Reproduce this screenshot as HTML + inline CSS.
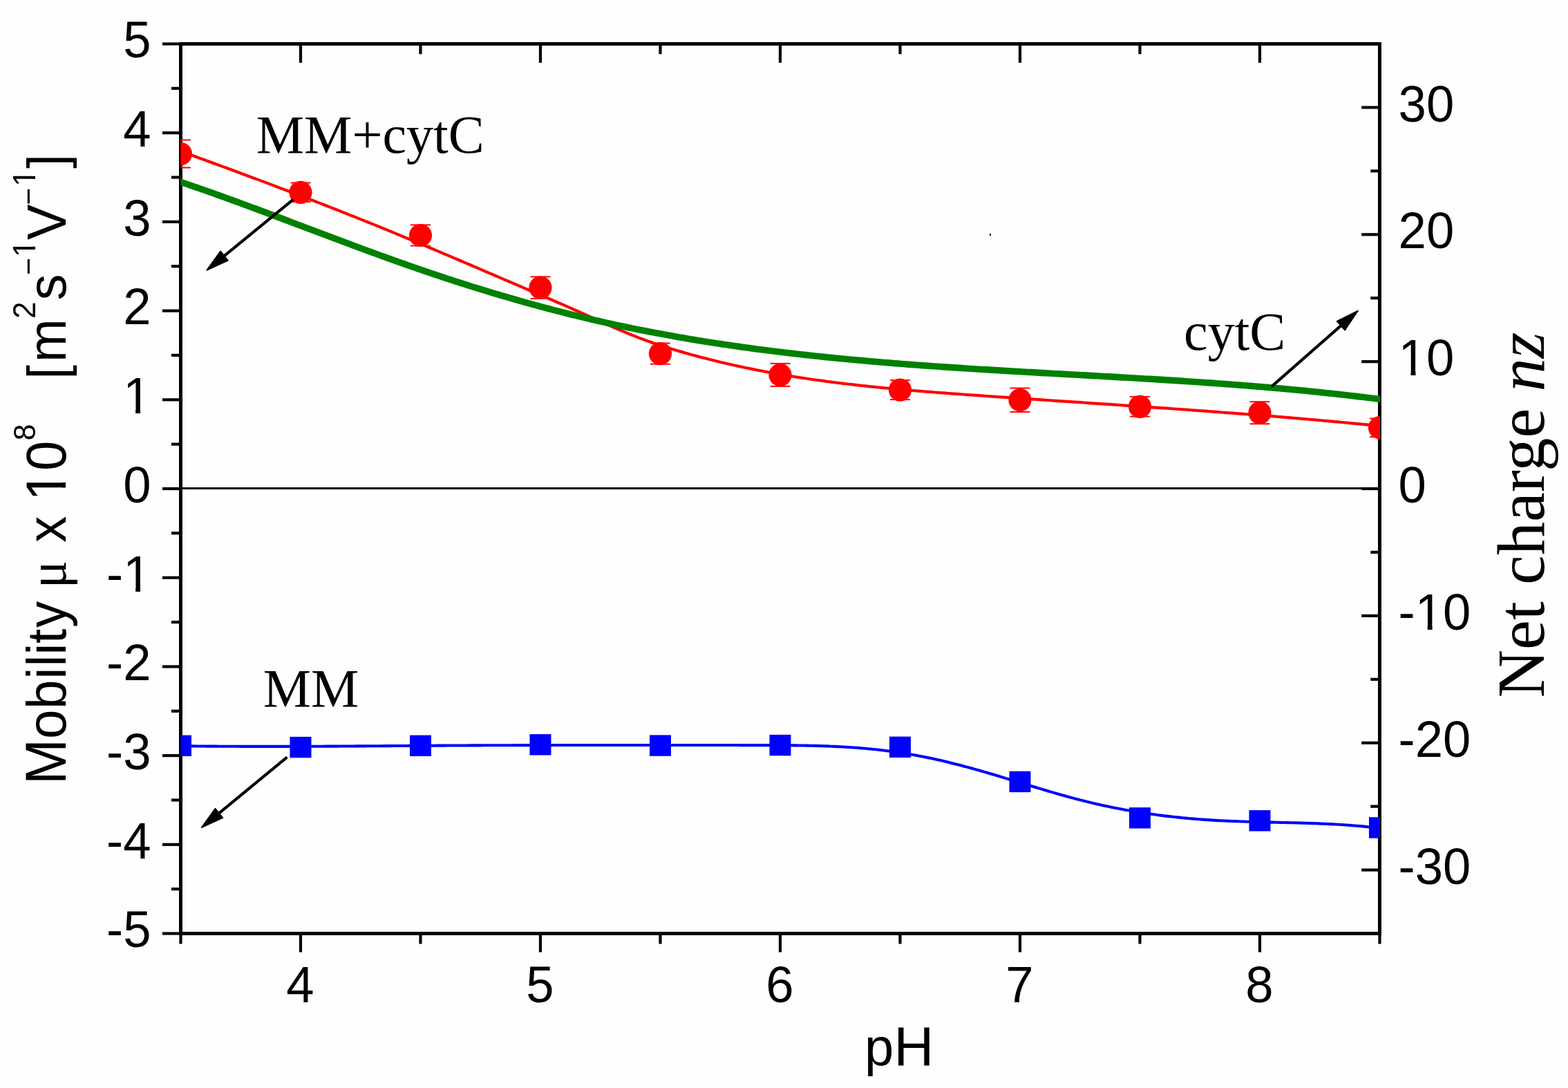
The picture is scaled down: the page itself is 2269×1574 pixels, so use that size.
<!DOCTYPE html>
<html><head><meta charset="utf-8"><title>Mobility vs pH</title>
<style>html,body{margin:0;padding:0;background:#fefefe;overflow:hidden}svg{display:block}</style>
</head><body>
<svg width="2269" height="1574" viewBox="0 0 2269 1574">
<rect width="2269" height="1574" fill="#fefefe"/>
<defs><clipPath id="pc"><rect x="261.5" y="63.5" width="1735.5" height="1287"/></clipPath></defs>
<line x1="261.5" y1="706.5" x2="1996.5" y2="706.5" stroke="#000" stroke-width="3" stroke-linecap="butt"/>
<line x1="261.5" y1="61" x2="261.5" y2="1353" stroke="#000" stroke-width="5" stroke-linecap="butt"/>
<line x1="1996.5" y1="61" x2="1996.5" y2="1353" stroke="#000" stroke-width="5" stroke-linecap="butt"/>
<line x1="259" y1="63.5" x2="1999" y2="63.5" stroke="#000" stroke-width="5" stroke-linecap="butt"/>
<line x1="259" y1="1350.5" x2="1999" y2="1350.5" stroke="#000" stroke-width="5" stroke-linecap="butt"/>
<line x1="235" y1="1350.5" x2="261.5" y2="1350.5" stroke="#000" stroke-width="4.2" stroke-linecap="butt"/>
<line x1="248" y1="1286.15" x2="261.5" y2="1286.15" stroke="#000" stroke-width="4.2" stroke-linecap="butt"/>
<line x1="235" y1="1221.8" x2="261.5" y2="1221.8" stroke="#000" stroke-width="4.2" stroke-linecap="butt"/>
<line x1="248" y1="1157.45" x2="261.5" y2="1157.45" stroke="#000" stroke-width="4.2" stroke-linecap="butt"/>
<line x1="235" y1="1093.1" x2="261.5" y2="1093.1" stroke="#000" stroke-width="4.2" stroke-linecap="butt"/>
<line x1="248" y1="1028.75" x2="261.5" y2="1028.75" stroke="#000" stroke-width="4.2" stroke-linecap="butt"/>
<line x1="235" y1="964.4" x2="261.5" y2="964.4" stroke="#000" stroke-width="4.2" stroke-linecap="butt"/>
<line x1="248" y1="900.05" x2="261.5" y2="900.05" stroke="#000" stroke-width="4.2" stroke-linecap="butt"/>
<line x1="235" y1="835.7" x2="261.5" y2="835.7" stroke="#000" stroke-width="4.2" stroke-linecap="butt"/>
<line x1="248" y1="771.35" x2="261.5" y2="771.35" stroke="#000" stroke-width="4.2" stroke-linecap="butt"/>
<line x1="235" y1="707" x2="261.5" y2="707" stroke="#000" stroke-width="4.2" stroke-linecap="butt"/>
<line x1="248" y1="642.65" x2="261.5" y2="642.65" stroke="#000" stroke-width="4.2" stroke-linecap="butt"/>
<line x1="235" y1="578.3" x2="261.5" y2="578.3" stroke="#000" stroke-width="4.2" stroke-linecap="butt"/>
<line x1="248" y1="513.95" x2="261.5" y2="513.95" stroke="#000" stroke-width="4.2" stroke-linecap="butt"/>
<line x1="235" y1="449.6" x2="261.5" y2="449.6" stroke="#000" stroke-width="4.2" stroke-linecap="butt"/>
<line x1="248" y1="385.25" x2="261.5" y2="385.25" stroke="#000" stroke-width="4.2" stroke-linecap="butt"/>
<line x1="235" y1="320.9" x2="261.5" y2="320.9" stroke="#000" stroke-width="4.2" stroke-linecap="butt"/>
<line x1="248" y1="256.55" x2="261.5" y2="256.55" stroke="#000" stroke-width="4.2" stroke-linecap="butt"/>
<line x1="235" y1="192.2" x2="261.5" y2="192.2" stroke="#000" stroke-width="4.2" stroke-linecap="butt"/>
<line x1="248" y1="127.85" x2="261.5" y2="127.85" stroke="#000" stroke-width="4.2" stroke-linecap="butt"/>
<line x1="235" y1="63.5" x2="261.5" y2="63.5" stroke="#000" stroke-width="4.2" stroke-linecap="butt"/>
<line x1="1983.3" y1="1350.5" x2="1996.5" y2="1350.5" stroke="#000" stroke-width="4.2" stroke-linecap="butt"/>
<line x1="1970.2" y1="1258.57" x2="1996.5" y2="1258.57" stroke="#000" stroke-width="4.2" stroke-linecap="butt"/>
<line x1="1983.3" y1="1166.64" x2="1996.5" y2="1166.64" stroke="#000" stroke-width="4.2" stroke-linecap="butt"/>
<line x1="1970.2" y1="1074.71" x2="1996.5" y2="1074.71" stroke="#000" stroke-width="4.2" stroke-linecap="butt"/>
<line x1="1983.3" y1="982.79" x2="1996.5" y2="982.79" stroke="#000" stroke-width="4.2" stroke-linecap="butt"/>
<line x1="1970.2" y1="890.86" x2="1996.5" y2="890.86" stroke="#000" stroke-width="4.2" stroke-linecap="butt"/>
<line x1="1983.3" y1="798.93" x2="1996.5" y2="798.93" stroke="#000" stroke-width="4.2" stroke-linecap="butt"/>
<line x1="1970.2" y1="707" x2="1996.5" y2="707" stroke="#000" stroke-width="4.2" stroke-linecap="butt"/>
<line x1="1983.3" y1="615.07" x2="1996.5" y2="615.07" stroke="#000" stroke-width="4.2" stroke-linecap="butt"/>
<line x1="1970.2" y1="523.14" x2="1996.5" y2="523.14" stroke="#000" stroke-width="4.2" stroke-linecap="butt"/>
<line x1="1983.3" y1="431.21" x2="1996.5" y2="431.21" stroke="#000" stroke-width="4.2" stroke-linecap="butt"/>
<line x1="1970.2" y1="339.29" x2="1996.5" y2="339.29" stroke="#000" stroke-width="4.2" stroke-linecap="butt"/>
<line x1="1983.3" y1="247.36" x2="1996.5" y2="247.36" stroke="#000" stroke-width="4.2" stroke-linecap="butt"/>
<line x1="1970.2" y1="155.43" x2="1996.5" y2="155.43" stroke="#000" stroke-width="4.2" stroke-linecap="butt"/>
<line x1="1983.3" y1="63.5" x2="1996.5" y2="63.5" stroke="#000" stroke-width="4.2" stroke-linecap="butt"/>
<line x1="261.5" y1="1350.5" x2="261.5" y2="1365.5" stroke="#000" stroke-width="4.2" stroke-linecap="butt"/>
<line x1="261.5" y1="63.5" x2="261.5" y2="78.3" stroke="#000" stroke-width="4.2" stroke-linecap="butt"/>
<line x1="435" y1="1350.5" x2="435" y2="1377.5" stroke="#000" stroke-width="4.2" stroke-linecap="butt"/>
<line x1="435" y1="63.5" x2="435" y2="90.8" stroke="#000" stroke-width="4.2" stroke-linecap="butt"/>
<line x1="608.5" y1="1350.5" x2="608.5" y2="1365.5" stroke="#000" stroke-width="4.2" stroke-linecap="butt"/>
<line x1="608.5" y1="63.5" x2="608.5" y2="78.3" stroke="#000" stroke-width="4.2" stroke-linecap="butt"/>
<line x1="782" y1="1350.5" x2="782" y2="1377.5" stroke="#000" stroke-width="4.2" stroke-linecap="butt"/>
<line x1="782" y1="63.5" x2="782" y2="90.8" stroke="#000" stroke-width="4.2" stroke-linecap="butt"/>
<line x1="955.5" y1="1350.5" x2="955.5" y2="1365.5" stroke="#000" stroke-width="4.2" stroke-linecap="butt"/>
<line x1="955.5" y1="63.5" x2="955.5" y2="78.3" stroke="#000" stroke-width="4.2" stroke-linecap="butt"/>
<line x1="1129" y1="1350.5" x2="1129" y2="1377.5" stroke="#000" stroke-width="4.2" stroke-linecap="butt"/>
<line x1="1129" y1="63.5" x2="1129" y2="90.8" stroke="#000" stroke-width="4.2" stroke-linecap="butt"/>
<line x1="1302.5" y1="1350.5" x2="1302.5" y2="1365.5" stroke="#000" stroke-width="4.2" stroke-linecap="butt"/>
<line x1="1302.5" y1="63.5" x2="1302.5" y2="78.3" stroke="#000" stroke-width="4.2" stroke-linecap="butt"/>
<line x1="1476" y1="1350.5" x2="1476" y2="1377.5" stroke="#000" stroke-width="4.2" stroke-linecap="butt"/>
<line x1="1476" y1="63.5" x2="1476" y2="90.8" stroke="#000" stroke-width="4.2" stroke-linecap="butt"/>
<line x1="1649.5" y1="1350.5" x2="1649.5" y2="1365.5" stroke="#000" stroke-width="4.2" stroke-linecap="butt"/>
<line x1="1649.5" y1="63.5" x2="1649.5" y2="78.3" stroke="#000" stroke-width="4.2" stroke-linecap="butt"/>
<line x1="1823" y1="1350.5" x2="1823" y2="1377.5" stroke="#000" stroke-width="4.2" stroke-linecap="butt"/>
<line x1="1823" y1="63.5" x2="1823" y2="90.8" stroke="#000" stroke-width="4.2" stroke-linecap="butt"/>
<line x1="1996.5" y1="1350.5" x2="1996.5" y2="1365.5" stroke="#000" stroke-width="4.2" stroke-linecap="butt"/>
<line x1="1996.5" y1="63.5" x2="1996.5" y2="78.3" stroke="#000" stroke-width="4.2" stroke-linecap="butt"/>
<text transform="translate(154.04,1370.3) scale(1,1.02)" font-family='"Liberation Sans", Arial, sans-serif' font-size="72.5" fill="#000">-5</text>
<text transform="translate(154.04,1241.6) scale(1,1.02)" font-family='"Liberation Sans", Arial, sans-serif' font-size="72.5" fill="#000">-4</text>
<text transform="translate(154.04,1112.9) scale(1,1.02)" font-family='"Liberation Sans", Arial, sans-serif' font-size="72.5" fill="#000">-3</text>
<text transform="translate(154.04,984.2) scale(1,1.02)" font-family='"Liberation Sans", Arial, sans-serif' font-size="72.5" fill="#000">-2</text>
<text transform="translate(154.04,855.5) scale(1,1.02)" font-family='"Liberation Sans", Arial, sans-serif' font-size="72.5" fill="#000" clip-path="url(#c1_1)">-1</text>
<text transform="translate(178.18,726.8) scale(1,1.02)" font-family='"Liberation Sans", Arial, sans-serif' font-size="72.5" fill="#000">0</text>
<text transform="translate(178.18,598.1) scale(1,1.02)" font-family='"Liberation Sans", Arial, sans-serif' font-size="72.5" fill="#000" clip-path="url(#c1_2)">1</text>
<text transform="translate(178.18,469.4) scale(1,1.02)" font-family='"Liberation Sans", Arial, sans-serif' font-size="72.5" fill="#000">2</text>
<text transform="translate(178.18,340.7) scale(1,1.02)" font-family='"Liberation Sans", Arial, sans-serif' font-size="72.5" fill="#000">3</text>
<text transform="translate(178.18,212) scale(1,1.02)" font-family='"Liberation Sans", Arial, sans-serif' font-size="72.5" fill="#000">4</text>
<text transform="translate(178.18,83.3) scale(1,1.02)" font-family='"Liberation Sans", Arial, sans-serif' font-size="72.5" fill="#000">5</text>
<text transform="translate(2023.6,1278.77) scale(1,1.02)" font-family='"Liberation Sans", Arial, sans-serif' font-size="72.5" fill="#000">-30</text>
<text transform="translate(2023.6,1094.91) scale(1,1.02)" font-family='"Liberation Sans", Arial, sans-serif' font-size="72.5" fill="#000">-20</text>
<text transform="translate(2023.6,911.06) scale(1,1.02)" font-family='"Liberation Sans", Arial, sans-serif' font-size="72.5" fill="#000" clip-path="url(#c1_3)">-10</text>
<text transform="translate(2023.6,727.2) scale(1,1.02)" font-family='"Liberation Sans", Arial, sans-serif' font-size="72.5" fill="#000">0</text>
<text transform="translate(2023.6,543.34) scale(1,1.02)" font-family='"Liberation Sans", Arial, sans-serif' font-size="72.5" fill="#000" clip-path="url(#c1_4)">10</text>
<text transform="translate(2023.6,359.49) scale(1,1.02)" font-family='"Liberation Sans", Arial, sans-serif' font-size="72.5" fill="#000">20</text>
<text transform="translate(2023.6,175.63) scale(1,1.02)" font-family='"Liberation Sans", Arial, sans-serif' font-size="72.5" fill="#000">30</text>
<text transform="translate(414.34,1450) scale(1,1.02)" font-family='"Liberation Sans", Arial, sans-serif' font-size="72.5" fill="#000">4</text>
<text transform="translate(761.34,1450) scale(1,1.02)" font-family='"Liberation Sans", Arial, sans-serif' font-size="72.5" fill="#000">5</text>
<text transform="translate(1108.34,1450) scale(1,1.02)" font-family='"Liberation Sans", Arial, sans-serif' font-size="72.5" fill="#000">6</text>
<text transform="translate(1455.34,1450) scale(1,1.02)" font-family='"Liberation Sans", Arial, sans-serif' font-size="72.5" fill="#000">7</text>
<text transform="translate(1802.34,1450) scale(1,1.02)" font-family='"Liberation Sans", Arial, sans-serif' font-size="72.5" fill="#000">8</text>
<text font-family='"Liberation Sans", Arial, sans-serif' fill="#000"><tspan font-size="76" x="1250.9" y="1541">p</tspan><tspan font-size="80" x="1293.44" y="1541">H</tspan></text>
<g clip-path="url(#pc)">
<path d="M256,216.78 C257.33,217.26 261.33,218.71 264,219.68 C266.67,220.65 269.33,221.62 272,222.59 C274.67,223.56 277.33,224.53 280,225.5 C282.67,226.47 285.33,227.45 288,228.42 C290.67,229.39 293.33,230.36 296,231.34 C298.67,232.31 301.33,233.29 304,234.27 C306.67,235.24 309.33,236.22 312,237.2 C314.67,238.18 317.33,239.16 320,240.14 C322.67,241.12 325.33,242.1 328,243.08 C330.67,244.06 333.33,245.05 336,246.03 C338.67,247.02 341.33,248 344,248.99 C346.67,249.98 349.33,250.96 352,251.95 C354.67,252.94 357.33,253.93 360,254.93 C362.67,255.92 365.33,256.91 368,257.91 C370.67,258.9 373.33,259.9 376,260.89 C378.67,261.89 381.33,262.89 384,263.89 C386.67,264.89 389.33,265.89 392,266.9 C394.67,267.9 397.33,268.91 400,269.91 C402.67,270.92 405.33,271.93 408,272.94 C410.67,273.95 413.33,274.96 416,275.97 C418.67,276.98 421.33,278 424,279.01 C426.67,280.03 429.33,281.05 432,282.07 C434.67,283.09 437.33,284.11 440,285.14 C442.67,286.16 445.33,287.18 448,288.21 C450.67,289.24 453.33,290.27 456,291.3 C458.67,292.33 461.33,293.37 464,294.4 C466.67,295.44 469.33,296.47 472,297.51 C474.67,298.55 477.33,299.59 480,300.64 C482.67,301.68 485.33,302.73 488,303.77 C490.67,304.82 493.33,305.87 496,306.93 C498.67,307.98 501.33,309.03 504,310.09 C506.67,311.15 509.33,312.21 512,313.27 C514.67,314.33 517.33,315.39 520,316.46 C522.67,317.53 525.33,318.59 528,319.67 C530.67,320.74 533.33,321.81 536,322.89 C538.67,323.96 541.33,325.04 544,326.12 C546.67,327.2 549.33,328.29 552,329.37 C554.67,330.46 557.33,331.55 560,332.64 C562.67,333.73 565.33,334.83 568,335.92 C570.67,337.02 573.33,338.12 576,339.22 C578.67,340.32 581.33,341.42 584,342.53 C586.67,343.64 589.33,344.74 592,345.85 C594.67,346.96 597.33,348.07 600,349.19 C602.67,350.3 605.33,351.42 608,352.54 C610.67,353.65 613.33,354.77 616,355.89 C618.67,357.01 621.33,358.14 624,359.26 C626.67,360.38 629.33,361.51 632,362.64 C634.67,363.76 637.33,364.89 640,366.02 C642.67,367.15 645.33,368.28 648,369.41 C650.67,370.55 653.33,371.68 656,372.81 C658.67,373.95 661.33,375.08 664,376.22 C666.67,377.35 669.33,378.49 672,379.63 C674.67,380.77 677.33,381.91 680,383.05 C682.67,384.18 685.33,385.32 688,386.47 C690.67,387.61 693.33,388.75 696,389.89 C698.67,391.03 701.33,392.17 704,393.31 C706.67,394.46 709.33,395.6 712,396.74 C714.67,397.89 717.33,399.03 720,400.17 C722.67,401.31 725.33,402.46 728,403.6 C730.67,404.74 733.33,405.89 736,407.03 C738.67,408.17 741.33,409.31 744,410.46 C746.67,411.6 749.33,412.74 752,413.88 C754.67,415.02 757.33,416.17 760,417.31 C762.67,418.45 765.33,419.59 768,420.73 C770.67,421.87 773.33,423.01 776,424.16 C778.67,425.3 781.33,426.45 784,427.59 C786.67,428.74 789.33,429.88 792,431.03 C794.67,432.18 797.33,433.33 800,434.48 C802.67,435.64 805.33,436.79 808,437.95 C810.67,439.11 813.33,440.27 816,441.43 C818.67,442.6 821.33,443.77 824,444.94 C826.67,446.11 829.33,447.28 832,448.46 C834.67,449.64 837.33,450.82 840,452.01 C842.67,453.2 845.33,454.39 848,455.59 C850.67,456.78 853.33,457.99 856,459.19 C858.67,460.39 861.33,461.6 864,462.8 C866.67,464 869.33,465.2 872,466.4 C874.67,467.6 877.33,468.79 880,469.98 C882.67,471.16 885.33,472.34 888,473.51 C890.67,474.68 893.33,475.84 896,476.99 C898.67,478.13 901.33,479.27 904,480.38 C906.67,481.5 909.33,482.61 912,483.69 C914.67,484.77 917.33,485.84 920,486.88 C922.67,487.93 925.33,488.96 928,489.96 C930.67,490.97 933.33,491.96 936,492.92 C938.67,493.89 941.33,494.83 944,495.76 C946.67,496.68 949.33,497.58 952,498.47 C954.67,499.36 957.33,500.22 960,501.08 C962.67,501.93 965.33,502.77 968,503.59 C970.67,504.42 973.33,505.23 976,506.03 C978.67,506.83 981.33,507.61 984,508.39 C986.67,509.17 989.33,509.94 992,510.7 C994.67,511.45 997.33,512.2 1000,512.94 C1002.67,513.68 1005.33,514.4 1008,515.12 C1010.67,515.84 1013.33,516.55 1016,517.24 C1018.67,517.94 1021.33,518.63 1024,519.31 C1026.67,519.99 1029.33,520.66 1032,521.32 C1034.67,521.98 1037.33,522.63 1040,523.27 C1042.67,523.91 1045.33,524.54 1048,525.16 C1050.67,525.79 1053.33,526.4 1056,527.01 C1058.67,527.61 1061.33,528.21 1064,528.8 C1066.67,529.39 1069.33,529.97 1072,530.54 C1074.67,531.11 1077.33,531.67 1080,532.23 C1082.67,532.78 1085.33,533.33 1088,533.87 C1090.67,534.41 1093.33,534.94 1096,535.46 C1098.67,535.98 1101.33,536.5 1104,537 C1106.67,537.51 1109.33,538.01 1112,538.5 C1114.67,538.99 1117.33,539.48 1120,539.95 C1122.67,540.43 1125.33,540.9 1128,541.36 C1130.67,541.83 1133.33,542.28 1136,542.73 C1138.67,543.18 1141.33,543.62 1144,544.06 C1146.67,544.49 1149.33,544.92 1152,545.34 C1154.67,545.76 1157.33,546.18 1160,546.59 C1162.67,546.99 1165.33,547.4 1168,547.79 C1170.67,548.19 1173.33,548.58 1176,548.96 C1178.67,549.35 1181.33,549.72 1184,550.1 C1186.67,550.47 1189.33,550.83 1192,551.19 C1194.67,551.56 1197.33,551.91 1200,552.26 C1202.67,552.61 1205.33,552.95 1208,553.29 C1210.67,553.63 1213.33,553.96 1216,554.29 C1218.67,554.62 1221.33,554.94 1224,555.26 C1226.67,555.58 1229.33,555.89 1232,556.2 C1234.67,556.51 1237.33,556.81 1240,557.11 C1242.67,557.41 1245.33,557.7 1248,557.99 C1250.67,558.28 1253.33,558.57 1256,558.85 C1258.67,559.13 1261.33,559.41 1264,559.68 C1266.67,559.96 1269.33,560.23 1272,560.49 C1274.67,560.76 1277.33,561.02 1280,561.28 C1282.67,561.54 1285.33,561.79 1288,562.04 C1290.67,562.29 1293.33,562.54 1296,562.78 C1298.67,563.03 1301.33,563.27 1304,563.51 C1306.67,563.74 1309.33,563.98 1312,564.21 C1314.67,564.44 1317.33,564.67 1320,564.9 C1322.67,565.12 1325.33,565.35 1328,565.57 C1330.67,565.79 1333.33,566.01 1336,566.22 C1338.67,566.44 1341.33,566.65 1344,566.86 C1346.67,567.07 1349.33,567.28 1352,567.49 C1354.67,567.7 1357.33,567.9 1360,568.11 C1362.67,568.31 1365.33,568.51 1368,568.71 C1370.67,568.91 1373.33,569.11 1376,569.3 C1378.67,569.5 1381.33,569.7 1384,569.89 C1386.67,570.08 1389.33,570.28 1392,570.47 C1394.67,570.66 1397.33,570.85 1400,571.04 C1402.67,571.23 1405.33,571.42 1408,571.61 C1410.67,571.79 1413.33,571.98 1416,572.17 C1418.67,572.35 1421.33,572.54 1424,572.73 C1426.67,572.91 1429.33,573.1 1432,573.28 C1434.67,573.47 1437.33,573.65 1440,573.84 C1442.67,574.02 1445.33,574.2 1448,574.39 C1450.67,574.57 1453.33,574.75 1456,574.94 C1458.67,575.12 1461.33,575.3 1464,575.48 C1466.67,575.66 1469.33,575.85 1472,576.03 C1474.67,576.21 1477.33,576.39 1480,576.57 C1482.67,576.75 1485.33,576.93 1488,577.11 C1490.67,577.29 1493.33,577.47 1496,577.65 C1498.67,577.83 1501.33,578.01 1504,578.19 C1506.67,578.37 1509.33,578.55 1512,578.73 C1514.67,578.91 1517.33,579.09 1520,579.27 C1522.67,579.45 1525.33,579.63 1528,579.81 C1530.67,579.98 1533.33,580.16 1536,580.34 C1538.67,580.52 1541.33,580.7 1544,580.88 C1546.67,581.06 1549.33,581.24 1552,581.42 C1554.67,581.59 1557.33,581.77 1560,581.95 C1562.67,582.13 1565.33,582.31 1568,582.49 C1570.67,582.67 1573.33,582.85 1576,583.03 C1578.67,583.2 1581.33,583.38 1584,583.56 C1586.67,583.74 1589.33,583.92 1592,584.1 C1594.67,584.28 1597.33,584.46 1600,584.64 C1602.67,584.82 1605.33,585 1608,585.18 C1610.67,585.36 1613.33,585.54 1616,585.72 C1618.67,585.9 1621.33,586.08 1624,586.27 C1626.67,586.45 1629.33,586.63 1632,586.81 C1634.67,586.99 1637.33,587.17 1640,587.36 C1642.67,587.54 1645.33,587.72 1648,587.91 C1650.67,588.09 1653.33,588.27 1656,588.46 C1658.67,588.64 1661.33,588.82 1664,589.01 C1666.67,589.19 1669.33,589.38 1672,589.56 C1674.67,589.75 1677.33,589.94 1680,590.12 C1682.67,590.31 1685.33,590.5 1688,590.68 C1690.67,590.87 1693.33,591.06 1696,591.25 C1698.67,591.44 1701.33,591.62 1704,591.81 C1706.67,592 1709.33,592.19 1712,592.38 C1714.67,592.58 1717.33,592.77 1720,592.96 C1722.67,593.15 1725.33,593.34 1728,593.54 C1730.67,593.73 1733.33,593.92 1736,594.12 C1738.67,594.31 1741.33,594.51 1744,594.7 C1746.67,594.9 1749.33,595.1 1752,595.29 C1754.67,595.49 1757.33,595.69 1760,595.89 C1762.67,596.09 1765.33,596.29 1768,596.49 C1770.67,596.69 1773.33,596.89 1776,597.09 C1778.67,597.29 1781.33,597.49 1784,597.7 C1786.67,597.9 1789.33,598.11 1792,598.31 C1794.67,598.52 1797.33,598.72 1800,598.93 C1802.67,599.14 1805.33,599.34 1808,599.55 C1810.67,599.76 1813.33,599.97 1816,600.18 C1818.67,600.39 1821.33,600.61 1824,600.82 C1826.67,601.03 1829.33,601.24 1832,601.46 C1834.67,601.67 1837.33,601.89 1840,602.11 C1842.67,602.32 1845.33,602.54 1848,602.76 C1850.67,602.98 1853.33,603.2 1856,603.42 C1858.67,603.64 1861.33,603.86 1864,604.09 C1866.67,604.31 1869.33,604.53 1872,604.76 C1874.67,604.99 1877.33,605.21 1880,605.44 C1882.67,605.67 1885.33,605.9 1888,606.13 C1890.67,606.36 1893.33,606.59 1896,606.82 C1898.67,607.05 1901.33,607.29 1904,607.52 C1906.67,607.76 1909.33,608 1912,608.23 C1914.67,608.47 1917.33,608.71 1920,608.95 C1922.67,609.19 1925.33,609.43 1928,609.68 C1930.67,609.92 1933.33,610.17 1936,610.41 C1938.67,610.66 1941.33,610.9 1944,611.15 C1946.67,611.4 1949.33,611.65 1952,611.9 C1954.67,612.16 1957.33,612.41 1960,612.66 C1962.67,612.92 1965.33,613.17 1968,613.43 C1970.67,613.69 1973.33,613.95 1976,614.21 C1978.67,614.47 1981.33,614.73 1984,614.99 C1986.67,615.26 1989.33,615.52 1992,615.79 C1994.67,616.06 1998.33,616.43 2000,616.6 C2001.67,616.76 2001.67,616.76 2002,616.8" fill="none" stroke="#f00" stroke-width="4.2" stroke-linejoin="round"/>
<line x1="247" y1="202.6" x2="276" y2="202.6" stroke="#f00" stroke-width="2" stroke-linecap="butt"/>
<line x1="247" y1="242.6" x2="276" y2="242.6" stroke="#f00" stroke-width="2" stroke-linecap="butt"/>
<line x1="261.5" y1="202.6" x2="261.5" y2="242.6" stroke="#f00" stroke-width="2" stroke-linecap="butt"/>
<circle cx="261.5" cy="222.6" r="16.6" fill="#f00"/>
<line x1="420.5" y1="264.6" x2="449.5" y2="264.6" stroke="#f00" stroke-width="2" stroke-linecap="butt"/>
<line x1="420.5" y1="292" x2="449.5" y2="292" stroke="#f00" stroke-width="2" stroke-linecap="butt"/>
<line x1="435" y1="264.6" x2="435" y2="292" stroke="#f00" stroke-width="2" stroke-linecap="butt"/>
<circle cx="435" cy="278.3" r="16.6" fill="#f00"/>
<line x1="594" y1="325.4" x2="623" y2="325.4" stroke="#f00" stroke-width="2" stroke-linecap="butt"/>
<line x1="594" y1="355.6" x2="623" y2="355.6" stroke="#f00" stroke-width="2" stroke-linecap="butt"/>
<line x1="608.5" y1="325.4" x2="608.5" y2="355.6" stroke="#f00" stroke-width="2" stroke-linecap="butt"/>
<circle cx="608.5" cy="340.5" r="16.6" fill="#f00"/>
<line x1="767.5" y1="400.4" x2="796.5" y2="400.4" stroke="#f00" stroke-width="2" stroke-linecap="butt"/>
<line x1="767.5" y1="432" x2="796.5" y2="432" stroke="#f00" stroke-width="2" stroke-linecap="butt"/>
<line x1="782" y1="400.4" x2="782" y2="432" stroke="#f00" stroke-width="2" stroke-linecap="butt"/>
<circle cx="782" cy="416.2" r="16.6" fill="#f00"/>
<line x1="941" y1="496.5" x2="970" y2="496.5" stroke="#f00" stroke-width="2" stroke-linecap="butt"/>
<line x1="941" y1="526.7" x2="970" y2="526.7" stroke="#f00" stroke-width="2" stroke-linecap="butt"/>
<line x1="955.5" y1="496.5" x2="955.5" y2="526.7" stroke="#f00" stroke-width="2" stroke-linecap="butt"/>
<circle cx="955.5" cy="511.6" r="16.6" fill="#f00"/>
<line x1="1114.5" y1="525.9" x2="1143.5" y2="525.9" stroke="#f00" stroke-width="2" stroke-linecap="butt"/>
<line x1="1114.5" y1="558.9" x2="1143.5" y2="558.9" stroke="#f00" stroke-width="2" stroke-linecap="butt"/>
<line x1="1129" y1="525.9" x2="1129" y2="558.9" stroke="#f00" stroke-width="2" stroke-linecap="butt"/>
<circle cx="1129" cy="542.4" r="16.6" fill="#f00"/>
<line x1="1288" y1="550.1" x2="1317" y2="550.1" stroke="#f00" stroke-width="2" stroke-linecap="butt"/>
<line x1="1288" y1="578.1" x2="1317" y2="578.1" stroke="#f00" stroke-width="2" stroke-linecap="butt"/>
<line x1="1302.5" y1="550.1" x2="1302.5" y2="578.1" stroke="#f00" stroke-width="2" stroke-linecap="butt"/>
<circle cx="1302.5" cy="564.1" r="16.6" fill="#f00"/>
<line x1="1461.5" y1="561.5" x2="1490.5" y2="561.5" stroke="#f00" stroke-width="2" stroke-linecap="butt"/>
<line x1="1461.5" y1="595.9" x2="1490.5" y2="595.9" stroke="#f00" stroke-width="2" stroke-linecap="butt"/>
<line x1="1476" y1="561.5" x2="1476" y2="595.9" stroke="#f00" stroke-width="2" stroke-linecap="butt"/>
<circle cx="1476" cy="578.7" r="16.6" fill="#f00"/>
<line x1="1635" y1="574" x2="1664" y2="574" stroke="#f00" stroke-width="2" stroke-linecap="butt"/>
<line x1="1635" y1="602.6" x2="1664" y2="602.6" stroke="#f00" stroke-width="2" stroke-linecap="butt"/>
<line x1="1649.5" y1="574" x2="1649.5" y2="602.6" stroke="#f00" stroke-width="2" stroke-linecap="butt"/>
<circle cx="1649.5" cy="588.3" r="16.6" fill="#f00"/>
<line x1="1808.5" y1="581.2" x2="1837.5" y2="581.2" stroke="#f00" stroke-width="2" stroke-linecap="butt"/>
<line x1="1808.5" y1="613.2" x2="1837.5" y2="613.2" stroke="#f00" stroke-width="2" stroke-linecap="butt"/>
<line x1="1823" y1="581.2" x2="1823" y2="613.2" stroke="#f00" stroke-width="2" stroke-linecap="butt"/>
<circle cx="1823" cy="597.2" r="16.6" fill="#f00"/>
<line x1="1982" y1="605.4" x2="2011" y2="605.4" stroke="#f00" stroke-width="2" stroke-linecap="butt"/>
<line x1="1982" y1="632" x2="2011" y2="632" stroke="#f00" stroke-width="2" stroke-linecap="butt"/>
<line x1="1996.5" y1="605.4" x2="1996.5" y2="632" stroke="#f00" stroke-width="2" stroke-linecap="butt"/>
<circle cx="1996.5" cy="618.7" r="16.6" fill="#f00"/>
<path d="M256,261.43 C257.33,261.88 261.33,263.22 264,264.12 C266.67,265.03 269.33,265.93 272,266.85 C274.67,267.76 277.33,268.68 280,269.6 C282.67,270.52 285.33,271.45 288,272.38 C290.67,273.31 293.33,274.24 296,275.18 C298.67,276.12 301.33,277.06 304,278 C306.67,278.95 309.33,279.9 312,280.85 C314.67,281.8 317.33,282.76 320,283.72 C322.67,284.68 325.33,285.64 328,286.6 C330.67,287.57 333.33,288.54 336,289.51 C338.67,290.48 341.33,291.45 344,292.43 C346.67,293.41 349.33,294.39 352,295.37 C354.67,296.35 357.33,297.33 360,298.32 C362.67,299.31 365.33,300.29 368,301.28 C370.67,302.27 373.33,303.27 376,304.26 C378.67,305.25 381.33,306.25 384,307.25 C386.67,308.24 389.33,309.24 392,310.24 C394.67,311.24 397.33,312.24 400,313.25 C402.67,314.25 405.33,315.25 408,316.26 C410.67,317.26 413.33,318.26 416,319.27 C418.67,320.28 421.33,321.28 424,322.29 C426.67,323.3 429.33,324.3 432,325.31 C434.67,326.32 437.33,327.33 440,328.33 C442.67,329.34 445.33,330.35 448,331.36 C450.67,332.37 453.33,333.37 456,334.38 C458.67,335.39 461.33,336.39 464,337.4 C466.67,338.41 469.33,339.41 472,340.42 C474.67,341.42 477.33,342.42 480,343.43 C482.67,344.43 485.33,345.43 488,346.43 C490.67,347.43 493.33,348.43 496,349.43 C498.67,350.43 501.33,351.42 504,352.42 C506.67,353.41 509.33,354.4 512,355.39 C514.67,356.38 517.33,357.37 520,358.36 C522.67,359.35 525.33,360.33 528,361.31 C530.67,362.3 533.33,363.28 536,364.25 C538.67,365.23 541.33,366.21 544,367.18 C546.67,368.15 549.33,369.12 552,370.09 C554.67,371.05 557.33,372.02 560,372.98 C562.67,373.94 565.33,374.9 568,375.85 C570.67,376.8 573.33,377.75 576,378.7 C578.67,379.65 581.33,380.59 584,381.54 C586.67,382.48 589.33,383.41 592,384.35 C594.67,385.28 597.33,386.21 600,387.14 C602.67,388.06 605.33,388.98 608,389.9 C610.67,390.82 613.33,391.73 616,392.64 C618.67,393.55 621.33,394.46 624,395.36 C626.67,396.26 629.33,397.16 632,398.05 C634.67,398.94 637.33,399.83 640,400.71 C642.67,401.6 645.33,402.48 648,403.35 C650.67,404.22 653.33,405.1 656,405.96 C658.67,406.83 661.33,407.69 664,408.55 C666.67,409.4 669.33,410.26 672,411.1 C674.67,411.95 677.33,412.8 680,413.63 C682.67,414.47 685.33,415.31 688,416.14 C690.67,416.97 693.33,417.79 696,418.61 C698.67,419.43 701.33,420.25 704,421.06 C706.67,421.87 709.33,422.68 712,423.48 C714.67,424.28 717.33,425.08 720,425.87 C722.67,426.67 725.33,427.46 728,428.24 C730.67,429.02 733.33,429.8 736,430.57 C738.67,431.35 741.33,432.12 744,432.88 C746.67,433.64 749.33,434.4 752,435.16 C754.67,435.91 757.33,436.66 760,437.41 C762.67,438.15 765.33,438.89 768,439.63 C770.67,440.36 773.33,441.09 776,441.82 C778.67,442.54 781.33,443.26 784,443.98 C786.67,444.69 789.33,445.4 792,446.11 C794.67,446.81 797.33,447.51 800,448.21 C802.67,448.9 805.33,449.59 808,450.28 C810.67,450.96 813.33,451.64 816,452.32 C818.67,452.99 821.33,453.66 824,454.33 C826.67,454.99 829.33,455.65 832,456.31 C834.67,456.96 837.33,457.61 840,458.25 C842.67,458.9 845.33,459.54 848,460.17 C850.67,460.8 853.33,461.43 856,462.05 C858.67,462.68 861.33,463.3 864,463.91 C866.67,464.52 869.33,465.13 872,465.73 C874.67,466.33 877.33,466.93 880,467.52 C882.67,468.11 885.33,468.69 888,469.28 C890.67,469.86 893.33,470.43 896,471 C898.67,471.57 901.33,472.14 904,472.7 C906.67,473.26 909.33,473.81 912,474.36 C914.67,474.91 917.33,475.45 920,475.99 C922.67,476.53 925.33,477.07 928,477.6 C930.67,478.13 933.33,478.65 936,479.17 C938.67,479.69 941.33,480.21 944,480.72 C946.67,481.23 949.33,481.74 952,482.24 C954.67,482.74 957.33,483.23 960,483.73 C962.67,484.22 965.33,484.7 968,485.19 C970.67,485.67 973.33,486.15 976,486.62 C978.67,487.09 981.33,487.56 984,488.03 C986.67,488.49 989.33,488.95 992,489.41 C994.67,489.86 997.33,490.31 1000,490.76 C1002.67,491.2 1005.33,491.65 1008,492.08 C1010.67,492.52 1013.33,492.96 1016,493.39 C1018.67,493.82 1021.33,494.24 1024,494.66 C1026.67,495.08 1029.33,495.5 1032,495.91 C1034.67,496.33 1037.33,496.73 1040,497.14 C1042.67,497.54 1045.33,497.94 1048,498.34 C1050.67,498.74 1053.33,499.13 1056,499.52 C1058.67,499.91 1061.33,500.29 1064,500.67 C1066.67,501.06 1069.33,501.43 1072,501.81 C1074.67,502.18 1077.33,502.55 1080,502.92 C1082.67,503.28 1085.33,503.64 1088,504 C1090.67,504.36 1093.33,504.72 1096,505.07 C1098.67,505.42 1101.33,505.77 1104,506.11 C1106.67,506.46 1109.33,506.8 1112,507.13 C1114.67,507.47 1117.33,507.81 1120,508.14 C1122.67,508.47 1125.33,508.79 1128,509.12 C1130.67,509.44 1133.33,509.76 1136,510.08 C1138.67,510.4 1141.33,510.71 1144,511.02 C1146.67,511.33 1149.33,511.64 1152,511.94 C1154.67,512.25 1157.33,512.55 1160,512.85 C1162.67,513.14 1165.33,513.44 1168,513.73 C1170.67,514.02 1173.33,514.31 1176,514.6 C1178.67,514.89 1181.33,515.17 1184,515.45 C1186.67,515.73 1189.33,516.01 1192,516.28 C1194.67,516.56 1197.33,516.83 1200,517.1 C1202.67,517.36 1205.33,517.63 1208,517.89 C1210.67,518.16 1213.33,518.42 1216,518.68 C1218.67,518.93 1221.33,519.19 1224,519.44 C1226.67,519.7 1229.33,519.95 1232,520.19 C1234.67,520.44 1237.33,520.69 1240,520.93 C1242.67,521.17 1245.33,521.41 1248,521.65 C1250.67,521.89 1253.33,522.12 1256,522.36 C1258.67,522.59 1261.33,522.82 1264,523.05 C1266.67,523.28 1269.33,523.51 1272,523.73 C1274.67,523.96 1277.33,524.18 1280,524.4 C1282.67,524.62 1285.33,524.83 1288,525.05 C1290.67,525.27 1293.33,525.48 1296,525.69 C1298.67,525.9 1301.33,526.11 1304,526.32 C1306.67,526.53 1309.33,526.73 1312,526.94 C1314.67,527.14 1317.33,527.34 1320,527.54 C1322.67,527.74 1325.33,527.94 1328,528.14 C1330.67,528.34 1333.33,528.53 1336,528.72 C1338.67,528.92 1341.33,529.11 1344,529.3 C1346.67,529.49 1349.33,529.68 1352,529.86 C1354.67,530.05 1357.33,530.23 1360,530.42 C1362.67,530.6 1365.33,530.78 1368,530.96 C1370.67,531.15 1373.33,531.32 1376,531.5 C1378.67,531.68 1381.33,531.86 1384,532.03 C1386.67,532.21 1389.33,532.38 1392,532.55 C1394.67,532.73 1397.33,532.9 1400,533.07 C1402.67,533.24 1405.33,533.41 1408,533.57 C1410.67,533.74 1413.33,533.91 1416,534.07 C1418.67,534.24 1421.33,534.41 1424,534.57 C1426.67,534.73 1429.33,534.9 1432,535.06 C1434.67,535.22 1437.33,535.38 1440,535.54 C1442.67,535.7 1445.33,535.86 1448,536.02 C1450.67,536.17 1453.33,536.33 1456,536.49 C1458.67,536.65 1461.33,536.8 1464,536.96 C1466.67,537.11 1469.33,537.27 1472,537.42 C1474.67,537.57 1477.33,537.73 1480,537.88 C1482.67,538.03 1485.33,538.18 1488,538.34 C1490.67,538.49 1493.33,538.64 1496,538.79 C1498.67,538.94 1501.33,539.09 1504,539.24 C1506.67,539.39 1509.33,539.54 1512,539.69 C1514.67,539.84 1517.33,539.99 1520,540.14 C1522.67,540.29 1525.33,540.43 1528,540.58 C1530.67,540.73 1533.33,540.88 1536,541.03 C1538.67,541.18 1541.33,541.32 1544,541.47 C1546.67,541.62 1549.33,541.77 1552,541.92 C1554.67,542.06 1557.33,542.21 1560,542.36 C1562.67,542.51 1565.33,542.66 1568,542.8 C1570.67,542.95 1573.33,543.1 1576,543.25 C1578.67,543.4 1581.33,543.55 1584,543.69 C1586.67,543.84 1589.33,543.99 1592,544.14 C1594.67,544.29 1597.33,544.44 1600,544.59 C1602.67,544.74 1605.33,544.89 1608,545.04 C1610.67,545.2 1613.33,545.35 1616,545.5 C1618.67,545.65 1621.33,545.8 1624,545.96 C1626.67,546.11 1629.33,546.26 1632,546.42 C1634.67,546.57 1637.33,546.73 1640,546.88 C1642.67,547.04 1645.33,547.2 1648,547.35 C1650.67,547.51 1653.33,547.67 1656,547.83 C1658.67,547.99 1661.33,548.15 1664,548.31 C1666.67,548.47 1669.33,548.63 1672,548.79 C1674.67,548.95 1677.33,549.12 1680,549.28 C1682.67,549.45 1685.33,549.61 1688,549.78 C1690.67,549.95 1693.33,550.11 1696,550.28 C1698.67,550.45 1701.33,550.62 1704,550.79 C1706.67,550.96 1709.33,551.14 1712,551.31 C1714.67,551.48 1717.33,551.66 1720,551.83 C1722.67,552.01 1725.33,552.19 1728,552.37 C1730.67,552.55 1733.33,552.73 1736,552.91 C1738.67,553.09 1741.33,553.27 1744,553.46 C1746.67,553.64 1749.33,553.83 1752,554.02 C1754.67,554.21 1757.33,554.4 1760,554.59 C1762.67,554.78 1765.33,554.97 1768,555.17 C1770.67,555.36 1773.33,555.56 1776,555.75 C1778.67,555.95 1781.33,556.15 1784,556.35 C1786.67,556.56 1789.33,556.76 1792,556.97 C1794.67,557.17 1797.33,557.38 1800,557.59 C1802.67,557.8 1805.33,558.01 1808,558.22 C1810.67,558.44 1813.33,558.65 1816,558.87 C1818.67,559.09 1821.33,559.31 1824,559.53 C1826.67,559.75 1829.33,559.97 1832,560.2 C1834.67,560.42 1837.33,560.65 1840,560.88 C1842.67,561.11 1845.33,561.35 1848,561.58 C1850.67,561.82 1853.33,562.06 1856,562.3 C1858.67,562.54 1861.33,562.78 1864,563.02 C1866.67,563.27 1869.33,563.52 1872,563.77 C1874.67,564.02 1877.33,564.27 1880,564.52 C1882.67,564.78 1885.33,565.04 1888,565.3 C1890.67,565.56 1893.33,565.82 1896,566.09 C1898.67,566.35 1901.33,566.62 1904,566.89 C1906.67,567.16 1909.33,567.44 1912,567.71 C1914.67,567.99 1917.33,568.27 1920,568.55 C1922.67,568.84 1925.33,569.12 1928,569.41 C1930.67,569.7 1933.33,569.99 1936,570.28 C1938.67,570.58 1941.33,570.88 1944,571.18 C1946.67,571.48 1949.33,571.78 1952,572.09 C1954.67,572.4 1957.33,572.71 1960,573.02 C1962.67,573.33 1965.33,573.65 1968,573.97 C1970.67,574.29 1973.33,574.61 1976,574.94 C1978.67,575.27 1981.33,575.6 1984,575.93 C1986.67,576.26 1989.33,576.6 1992,576.94 C1994.67,577.28 1998.33,577.76 2000,577.97 C2001.67,578.19 2001.67,578.19 2002,578.23" fill="none" stroke="#008000" stroke-width="9.4" stroke-linejoin="round"/>
<path d="M256,1079.13 C257.33,1079.14 261.33,1079.2 264,1079.23 C266.67,1079.26 269.33,1079.29 272,1079.32 C274.67,1079.35 277.33,1079.37 280,1079.4 C282.67,1079.43 285.33,1079.45 288,1079.48 C290.67,1079.5 293.33,1079.52 296,1079.55 C298.67,1079.57 301.33,1079.59 304,1079.61 C306.67,1079.63 309.33,1079.65 312,1079.66 C314.67,1079.68 317.33,1079.7 320,1079.71 C322.67,1079.73 325.33,1079.74 328,1079.75 C330.67,1079.77 333.33,1079.78 336,1079.79 C338.67,1079.8 341.33,1079.81 344,1079.82 C346.67,1079.83 349.33,1079.84 352,1079.84 C354.67,1079.85 357.33,1079.86 360,1079.86 C362.67,1079.87 365.33,1079.87 368,1079.88 C370.67,1079.88 373.33,1079.88 376,1079.88 C378.67,1079.89 381.33,1079.89 384,1079.89 C386.67,1079.89 389.33,1079.89 392,1079.89 C394.67,1079.89 397.33,1079.88 400,1079.88 C402.67,1079.88 405.33,1079.87 408,1079.87 C410.67,1079.87 413.33,1079.86 416,1079.86 C418.67,1079.85 421.33,1079.84 424,1079.84 C426.67,1079.83 429.33,1079.82 432,1079.82 C434.67,1079.81 437.33,1079.8 440,1079.79 C442.67,1079.78 445.33,1079.77 448,1079.76 C450.67,1079.75 453.33,1079.74 456,1079.73 C458.67,1079.72 461.33,1079.71 464,1079.7 C466.67,1079.68 469.33,1079.67 472,1079.66 C474.67,1079.64 477.33,1079.63 480,1079.62 C482.67,1079.6 485.33,1079.59 488,1079.58 C490.67,1079.56 493.33,1079.55 496,1079.53 C498.67,1079.52 501.33,1079.5 504,1079.49 C506.67,1079.47 509.33,1079.45 512,1079.44 C514.67,1079.42 517.33,1079.41 520,1079.39 C522.67,1079.37 525.33,1079.35 528,1079.34 C530.67,1079.32 533.33,1079.3 536,1079.29 C538.67,1079.27 541.33,1079.25 544,1079.23 C546.67,1079.22 549.33,1079.2 552,1079.18 C554.67,1079.16 557.33,1079.15 560,1079.13 C562.67,1079.11 565.33,1079.09 568,1079.07 C570.67,1079.06 573.33,1079.04 576,1079.02 C578.67,1079 581.33,1078.98 584,1078.97 C586.67,1078.95 589.33,1078.93 592,1078.91 C594.67,1078.9 597.33,1078.88 600,1078.86 C602.67,1078.84 605.33,1078.83 608,1078.81 C610.67,1078.79 613.33,1078.78 616,1078.76 C618.67,1078.74 621.33,1078.73 624,1078.71 C626.67,1078.69 629.33,1078.68 632,1078.66 C634.67,1078.65 637.33,1078.63 640,1078.62 C642.67,1078.6 645.33,1078.59 648,1078.57 C650.67,1078.56 653.33,1078.54 656,1078.53 C658.67,1078.51 661.33,1078.5 664,1078.49 C666.67,1078.47 669.33,1078.46 672,1078.45 C674.67,1078.43 677.33,1078.42 680,1078.41 C682.67,1078.4 685.33,1078.39 688,1078.37 C690.67,1078.36 693.33,1078.35 696,1078.34 C698.67,1078.33 701.33,1078.32 704,1078.31 C706.67,1078.3 709.33,1078.29 712,1078.28 C714.67,1078.27 717.33,1078.26 720,1078.25 C722.67,1078.24 725.33,1078.23 728,1078.22 C730.67,1078.21 733.33,1078.2 736,1078.19 C738.67,1078.18 741.33,1078.17 744,1078.17 C746.67,1078.16 749.33,1078.15 752,1078.14 C754.67,1078.13 757.33,1078.13 760,1078.12 C762.67,1078.11 765.33,1078.11 768,1078.1 C770.67,1078.09 773.33,1078.09 776,1078.08 C778.67,1078.07 781.33,1078.07 784,1078.06 C786.67,1078.06 789.33,1078.05 792,1078.05 C794.67,1078.04 797.33,1078.04 800,1078.03 C802.67,1078.03 805.33,1078.02 808,1078.02 C810.67,1078.01 813.33,1078.01 816,1078 C818.67,1078 821.33,1078 824,1077.99 C826.67,1077.99 829.33,1077.98 832,1077.98 C834.67,1077.98 837.33,1077.97 840,1077.97 C842.67,1077.97 845.33,1077.97 848,1077.96 C850.67,1077.96 853.33,1077.96 856,1077.96 C858.67,1077.95 861.33,1077.95 864,1077.95 C866.67,1077.95 869.33,1077.95 872,1077.95 C874.67,1077.94 877.33,1077.94 880,1077.94 C882.67,1077.94 885.33,1077.94 888,1077.94 C890.67,1077.94 893.33,1077.94 896,1077.94 C898.67,1077.94 901.33,1077.94 904,1077.94 C906.67,1077.94 909.33,1077.93 912,1077.94 C914.67,1077.94 917.33,1077.94 920,1077.94 C922.67,1077.94 925.33,1077.94 928,1077.94 C930.67,1077.94 933.33,1077.94 936,1077.94 C938.67,1077.94 941.33,1077.94 944,1077.94 C946.67,1077.94 949.33,1077.95 952,1077.95 C954.67,1077.95 957.33,1077.95 960,1077.95 C962.67,1077.95 965.33,1077.95 968,1077.96 C970.67,1077.96 973.33,1077.96 976,1077.96 C978.67,1077.96 981.33,1077.97 984,1077.97 C986.67,1077.97 989.33,1077.97 992,1077.98 C994.67,1077.98 997.33,1077.98 1000,1077.98 C1002.67,1077.99 1005.33,1077.99 1008,1077.99 C1010.67,1078 1013.33,1078 1016,1078 C1018.67,1078.01 1021.33,1078.01 1024,1078.01 C1026.67,1078.02 1029.33,1078.02 1032,1078.02 C1034.67,1078.03 1037.33,1078.03 1040,1078.03 C1042.67,1078.04 1045.33,1078.04 1048,1078.04 C1050.67,1078.05 1053.33,1078.05 1056,1078.05 C1058.67,1078.06 1061.33,1078.06 1064,1078.07 C1066.67,1078.07 1069.33,1078.07 1072,1078.08 C1074.67,1078.08 1077.33,1078.09 1080,1078.09 C1082.67,1078.1 1085.33,1078.1 1088,1078.1 C1090.67,1078.11 1093.33,1078.11 1096,1078.12 C1098.67,1078.12 1101.33,1078.13 1104,1078.13 C1106.67,1078.14 1109.33,1078.14 1112,1078.15 C1114.67,1078.15 1117.33,1078.16 1120,1078.17 C1122.67,1078.18 1125.33,1078.19 1128,1078.2 C1130.67,1078.21 1133.33,1078.23 1136,1078.24 C1138.67,1078.26 1141.33,1078.28 1144,1078.31 C1146.67,1078.33 1149.33,1078.36 1152,1078.39 C1154.67,1078.42 1157.33,1078.46 1160,1078.5 C1162.67,1078.54 1165.33,1078.59 1168,1078.64 C1170.67,1078.69 1173.33,1078.74 1176,1078.81 C1178.67,1078.87 1181.33,1078.94 1184,1079.02 C1186.67,1079.09 1189.33,1079.17 1192,1079.26 C1194.67,1079.35 1197.33,1079.45 1200,1079.56 C1202.67,1079.66 1205.33,1079.77 1208,1079.9 C1210.67,1080.02 1213.33,1080.15 1216,1080.29 C1218.67,1080.43 1221.33,1080.58 1224,1080.74 C1226.67,1080.9 1229.33,1081.07 1232,1081.25 C1234.67,1081.43 1237.33,1081.62 1240,1081.82 C1242.67,1082.02 1245.33,1082.23 1248,1082.46 C1250.67,1082.68 1253.33,1082.92 1256,1083.17 C1258.67,1083.42 1261.33,1083.68 1264,1083.95 C1266.67,1084.23 1269.33,1084.51 1272,1084.82 C1274.67,1085.12 1277.33,1085.43 1280,1085.76 C1282.67,1086.09 1285.33,1086.44 1288,1086.8 C1290.67,1087.15 1293.33,1087.53 1296,1087.91 C1298.67,1088.3 1301.33,1088.7 1304,1089.12 C1306.67,1089.53 1309.33,1089.96 1312,1090.41 C1314.67,1090.85 1317.33,1091.31 1320,1091.78 C1322.67,1092.25 1325.33,1092.73 1328,1093.23 C1330.67,1093.73 1333.33,1094.24 1336,1094.77 C1338.67,1095.29 1341.33,1095.83 1344,1096.38 C1346.67,1096.94 1349.33,1097.5 1352,1098.08 C1354.67,1098.66 1357.33,1099.25 1360,1099.86 C1362.67,1100.46 1365.33,1101.08 1368,1101.72 C1370.67,1102.35 1373.33,1102.99 1376,1103.65 C1378.67,1104.31 1381.33,1104.98 1384,1105.66 C1386.67,1106.34 1389.33,1107.03 1392,1107.74 C1394.67,1108.44 1397.33,1109.16 1400,1109.88 C1402.67,1110.6 1405.33,1111.34 1408,1112.08 C1410.67,1112.82 1413.33,1113.57 1416,1114.33 C1418.67,1115.08 1421.33,1115.85 1424,1116.62 C1426.67,1117.39 1429.33,1118.17 1432,1118.95 C1434.67,1119.73 1437.33,1120.52 1440,1121.32 C1442.67,1122.11 1445.33,1122.91 1448,1123.71 C1450.67,1124.51 1453.33,1125.31 1456,1126.12 C1458.67,1126.92 1461.33,1127.73 1464,1128.54 C1466.67,1129.35 1469.33,1130.16 1472,1130.97 C1474.67,1131.79 1477.33,1132.6 1480,1133.41 C1482.67,1134.22 1485.33,1135.03 1488,1135.84 C1490.67,1136.65 1493.33,1137.46 1496,1138.26 C1498.67,1139.06 1501.33,1139.87 1504,1140.66 C1506.67,1141.46 1509.33,1142.25 1512,1143.04 C1514.67,1143.83 1517.33,1144.62 1520,1145.4 C1522.67,1146.17 1525.33,1146.95 1528,1147.71 C1530.67,1148.48 1533.33,1149.24 1536,1149.99 C1538.67,1150.74 1541.33,1151.48 1544,1152.22 C1546.67,1152.95 1549.33,1153.68 1552,1154.39 C1554.67,1155.11 1557.33,1155.82 1560,1156.51 C1562.67,1157.21 1565.33,1157.89 1568,1158.56 C1570.67,1159.23 1573.33,1159.9 1576,1160.54 C1578.67,1161.19 1581.33,1161.82 1584,1162.45 C1586.67,1163.07 1589.33,1163.68 1592,1164.27 C1594.67,1164.87 1597.33,1165.45 1600,1166.02 C1602.67,1166.6 1605.33,1167.15 1608,1167.7 C1610.67,1168.25 1613.33,1168.78 1616,1169.3 C1618.67,1169.83 1621.33,1170.34 1624,1170.84 C1626.67,1171.33 1629.33,1171.82 1632,1172.3 C1634.67,1172.77 1637.33,1173.23 1640,1173.69 C1642.67,1174.14 1645.33,1174.58 1648,1175.01 C1650.67,1175.43 1653.33,1175.85 1656,1176.26 C1658.67,1176.67 1661.33,1177.06 1664,1177.45 C1666.67,1177.83 1669.33,1178.2 1672,1178.57 C1674.67,1178.93 1677.33,1179.28 1680,1179.62 C1682.67,1179.96 1685.33,1180.29 1688,1180.61 C1690.67,1180.93 1693.33,1181.24 1696,1181.54 C1698.67,1181.84 1701.33,1182.13 1704,1182.41 C1706.67,1182.69 1709.33,1182.96 1712,1183.22 C1714.67,1183.48 1717.33,1183.73 1720,1183.97 C1722.67,1184.21 1725.33,1184.44 1728,1184.66 C1730.67,1184.88 1733.33,1185.09 1736,1185.3 C1738.67,1185.5 1741.33,1185.69 1744,1185.87 C1746.67,1186.06 1749.33,1186.23 1752,1186.4 C1754.67,1186.56 1757.33,1186.72 1760,1186.87 C1762.67,1187.02 1765.33,1187.16 1768,1187.29 C1770.67,1187.42 1773.33,1187.55 1776,1187.66 C1778.67,1187.78 1781.33,1187.89 1784,1188 C1786.67,1188.1 1789.33,1188.2 1792,1188.3 C1794.67,1188.39 1797.33,1188.48 1800,1188.56 C1802.67,1188.65 1805.33,1188.73 1808,1188.8 C1810.67,1188.88 1813.33,1188.95 1816,1189.02 C1818.67,1189.09 1821.33,1189.15 1824,1189.22 C1826.67,1189.28 1829.33,1189.34 1832,1189.41 C1834.67,1189.47 1837.33,1189.52 1840,1189.58 C1842.67,1189.64 1845.33,1189.7 1848,1189.76 C1850.67,1189.82 1853.33,1189.87 1856,1189.93 C1858.67,1189.99 1861.33,1190.05 1864,1190.12 C1866.67,1190.18 1869.33,1190.24 1872,1190.31 C1874.67,1190.37 1877.33,1190.44 1880,1190.51 C1882.67,1190.59 1885.33,1190.66 1888,1190.74 C1890.67,1190.82 1893.33,1190.9 1896,1190.99 C1898.67,1191.08 1901.33,1191.17 1904,1191.27 C1906.67,1191.37 1909.33,1191.47 1912,1191.58 C1914.67,1191.7 1917.33,1191.81 1920,1191.94 C1922.67,1192.06 1925.33,1192.19 1928,1192.33 C1930.67,1192.47 1933.33,1192.62 1936,1192.77 C1938.67,1192.93 1941.33,1193.09 1944,1193.27 C1946.67,1193.44 1949.33,1193.62 1952,1193.82 C1954.67,1194.01 1957.33,1194.21 1960,1194.43 C1962.67,1194.64 1965.33,1194.87 1968,1195.11 C1970.67,1195.34 1973.33,1195.59 1976,1195.86 C1978.67,1196.12 1981.33,1196.39 1984,1196.68 C1986.67,1196.97 1989.33,1197.27 1992,1197.58 C1994.67,1197.9 1998.33,1198.36 2000,1198.57 C2001.67,1198.78 2001.67,1198.79 2002,1198.83" fill="none" stroke="#00f" stroke-width="4.1" stroke-linejoin="round"/>
<rect x="246" y="1063.6" width="31" height="30.4" fill="#00f"/>
<rect x="419.5" y="1065.9" width="31" height="30.4" fill="#00f"/>
<rect x="593" y="1063.6" width="31" height="30.4" fill="#00f"/>
<rect x="766.5" y="1062.1" width="31" height="30.4" fill="#00f"/>
<rect x="940" y="1063.4" width="31" height="30.4" fill="#00f"/>
<rect x="1113.5" y="1062.9" width="31" height="30.4" fill="#00f"/>
<rect x="1287" y="1065.6" width="31" height="30.4" fill="#00f"/>
<rect x="1460.5" y="1115.7" width="31" height="30.4" fill="#00f"/>
<rect x="1634" y="1168.1" width="31" height="30.4" fill="#00f"/>
<rect x="1807.5" y="1172.1" width="31" height="30.4" fill="#00f"/>
<rect x="1981" y="1182.2" width="31" height="30.4" fill="#00f"/>
</g>
<line x1="424.3" y1="288.6" x2="321.55" y2="372.64" stroke="#000" stroke-width="4.2" stroke-linecap="butt"/>
<polygon points="299.1,391 319.07,363.3 330.22,376.92" fill="#000" stroke="#000" stroke-width="1.5" stroke-linejoin="round"/>
<line x1="415.5" y1="1095.3" x2="313.99" y2="1178.87" stroke="#000" stroke-width="4.2" stroke-linecap="butt"/>
<polygon points="291.6,1197.3 311.48,1169.53 322.67,1183.12" fill="#000" stroke="#000" stroke-width="1.5" stroke-linejoin="round"/>
<line x1="1839.9" y1="559.4" x2="1943.31" y2="468.63" stroke="#000" stroke-width="4.2" stroke-linecap="butt"/>
<polygon points="1965.1,449.5 1946.1,477.88 1934.49,464.66" fill="#000" stroke="#000" stroke-width="1.5" stroke-linejoin="round"/>
<rect x="1432" y="338" width="2" height="3" fill="#000"/>
<text transform="translate(370.75,220.9)" font-family='"Liberation Serif", "Times New Roman", serif' font-size="78" fill="#000">MM+cytC</text>
<text transform="translate(1713.03,506)" font-family='"Liberation Serif", "Times New Roman", serif' font-size="78" fill="#000">cytC</text>
<text transform="translate(380.65,1022.2)" font-family='"Liberation Serif", "Times New Roman", serif' font-size="78" fill="#000">MM</text>
<g transform="rotate(-90)">
<text transform="scale(0.96,1)" clip-path="url(#ytc)" fill="#000"><tspan font-family='"Liberation Sans", Arial, sans-serif' font-size="82.5" x="-1182.39" y="95">M</tspan><tspan font-family='"Liberation Sans", Arial, sans-serif' font-size="79.5" x="-1113.55 -1068.87 -1023.55 -1004.63 -987.09 -969.75 -945.92" y="95">obility</tspan><tspan font-family='"Liberation Sans", Arial, sans-serif' font-size="79.5"> </tspan><tspan font-family='"Liberation Serif", "Times New Roman", serif' font-size="78" x="-886.43" y="95">μ</tspan><tspan font-family='"Liberation Sans", Arial, sans-serif' font-size="79.5"> </tspan><tspan font-family='"Liberation Sans", Arial, sans-serif' font-size="79.5" x="-817.56" y="95">x</tspan> <tspan font-family='"Liberation Sans", Arial, sans-serif' font-size="81" x="-754.87 -709.41" y="95">10</tspan><tspan font-family='"Liberation Sans", Arial, sans-serif' font-size="44.5" x="-663.7" y="51.1">8</tspan><tspan font-family='"Liberation Sans", Arial, sans-serif' font-size="77">  </tspan><tspan font-family='"Liberation Sans", Arial, sans-serif' font-size="77" x="-571.43" y="95">[</tspan><tspan font-family='"Liberation Sans", Arial, sans-serif' font-size="78.5" x="-545.73" y="95">m</tspan><tspan font-family='"Liberation Sans", Arial, sans-serif' font-size="46" x="-480.33" y="51.1">2</tspan><tspan font-family='"Liberation Sans", Arial, sans-serif' font-size="78.5" x="-452.39" y="95">s</tspan><tspan font-family='"Liberation Sans", Arial, sans-serif' font-size="44.5" x="-414.28" y="56.1">−</tspan><tspan font-family='"Liberation Sans", Arial, sans-serif' font-size="46" x="-387.55" y="51.1">1</tspan><tspan font-family='"Liberation Sans", Arial, sans-serif' font-size="80" x="-361.5" y="95">V</tspan><tspan font-family='"Liberation Sans", Arial, sans-serif' font-size="44.5" x="-308.86" y="56.1">−</tspan><tspan font-family='"Liberation Sans", Arial, sans-serif' font-size="46" x="-281.09" y="51.1">1</tspan><tspan font-family='"Liberation Sans", Arial, sans-serif' font-size="77" x="-254.04" y="95">]</tspan></text>
<text transform="translate(-1009.58,2234)" font-family='"Liberation Serif", "Times New Roman", serif' font-size="96.5" fill="#000">Net charge <tspan font-style="italic">nz</tspan></text>
</g>
<defs><clipPath id="c1_1" clipPathUnits="userSpaceOnUse"><path clip-rule="evenodd" d="M-72.5,-145 H136.96 V72.5 H-72.5 Z M27.04,-7.25 H42.13 V2.9 H27.04 Z M49.03,-7.25 H62.93 V2.9 H49.03 Z"/></clipPath><clipPath id="c1_2" clipPathUnits="userSpaceOnUse"><path clip-rule="evenodd" d="M-72.5,-145 H112.82 V72.5 H-72.5 Z M2.9,-7.25 H17.98 V2.9 H2.9 Z M24.89,-7.25 H38.79 V2.9 H24.89 Z"/></clipPath><clipPath id="c1_3" clipPathUnits="userSpaceOnUse"><path clip-rule="evenodd" d="M-72.5,-145 H177.29 V72.5 H-72.5 Z M27.04,-7.25 H42.13 V2.9 H27.04 Z M49.03,-7.25 H62.93 V2.9 H49.03 Z"/></clipPath><clipPath id="c1_4" clipPathUnits="userSpaceOnUse"><path clip-rule="evenodd" d="M-72.5,-145 H153.14 V72.5 H-72.5 Z M2.9,-7.25 H17.98 V2.9 H2.9 Z M24.89,-7.25 H38.79 V2.9 H24.89 Z"/></clipPath><clipPath id="ytc" clipPathUnits="userSpaceOnUse"><path clip-rule="evenodd" d="M-3000,-600 H3000 V600 H-3000 Z M-751.63,86.9 H-734.83 V98.24 H-751.63 Z M-727.03,86.9 H-711.54 V98.24 H-727.03 Z M-385.71,46.5 H-376.16 V52.94 H-385.71 Z M-371.74,46.5 H-362.94 V52.94 H-371.74 Z M-279.25,46.5 H-269.71 V52.94 H-279.25 Z M-265.28,46.5 H-256.48 V52.94 H-265.28 Z"/></clipPath></defs>
</svg>
</body></html>
